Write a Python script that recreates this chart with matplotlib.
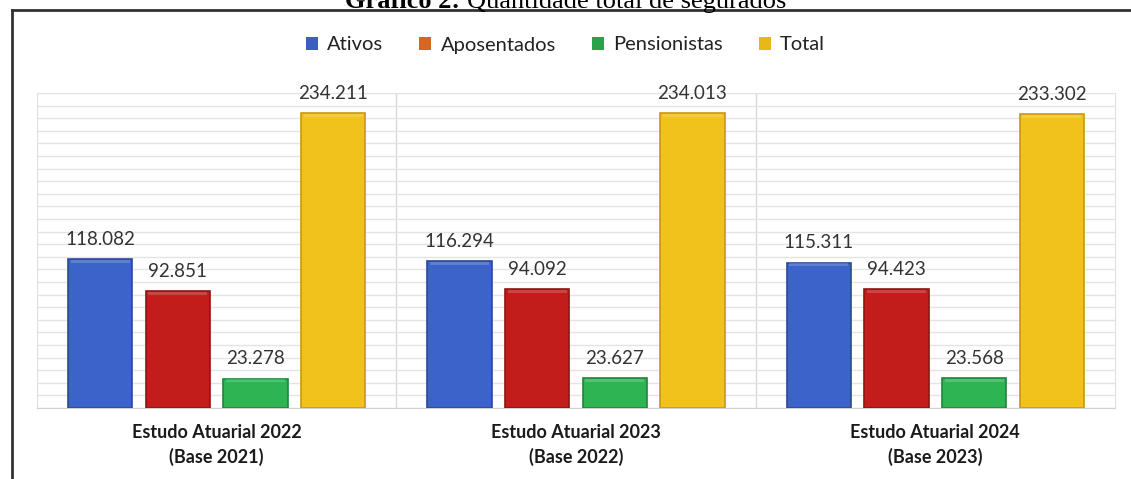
import matplotlib.pyplot as plt
import numpy as np
from matplotlib.patches import Rectangle
from matplotlib.lines import Line2D

# data
categories = ['Estudo Atuarial 2022\n(Base 2021)',
              'Estudo Atuarial 2023\n(Base 2022)',
              'Estudo Atuarial 2024\n(Base 2023)']
series = ['Ativos', 'Aposentados', 'Pensionistas', 'Total']
ativos = [118082, 116294, 115311]
aposentados = [92851, 94092, 94423]
pensionistas = [23278, 23627, 23568]
total = [234211, 234013, 233302]

values = [ativos, aposentados, pensionistas, total]
colors = ['#3b63c9', '#c21d1a', '#2fb453', '#f1c21b']
edges = ['#2a4a9a', '#8e1512', '#21853c', '#c79a10']
legend_colors = ['#3a5fc0', '#d9661e', '#2aa24a', '#e8b818']

plt.rcParams['font.family'] = ['Lato', 'DejaVu Sans']

W, H = 1131, 479
fig = plt.figure(figsize=(W / 100, H / 100), dpi=100)
ax = fig.add_axes([37 / W, 71 / H, 1078 / W, 315 / H])

x = np.arange(len(categories))
step = 0.216
width = 0.179
for i, (name, vals) in enumerate(zip(series, values)):
    pos = x + (i - 1.5) * step
    ax.bar(pos, vals, width, color=colors[i], edgecolor=edges[i],
           linewidth=1.2, zorder=3)
    # lighter top bevel
    ax.bar(pos, [2500] * len(vals), width * 0.92, bottom=np.array(vals) - 3000,
           color='white', alpha=0.18, linewidth=0, zorder=4)
    for xp, v in zip(pos, vals):
        ax.text(xp, v + 9000, f'{v:,}'.replace(',', '.'), ha='center',
                va='bottom', fontsize=13.5, color='#333333')

ax.set_xlim(-0.5, 2.5)
ax.set_ylim(0, 250000)
ax.set_yticks(np.arange(0, 250001, 10000))
ax.yaxis.grid(True, color='#e4e4e4', linewidth=1.0, zorder=0)
ax.tick_params(axis='y', left=False, labelleft=False)
ax.tick_params(axis='x', bottom=False, labelbottom=False)
for xs in [0.5, 1.5]:
    ax.axvline(xs, color='#d9d9d9', linewidth=1.0, zorder=1)
ax.spines['top'].set_visible(False)
for s in ['left', 'right']:
    ax.spines[s].set_color('#e0e0e0')
ax.spines['bottom'].set_color('#d0d0d0')

for xi, cat in zip(x, categories):
    ax.text(xi, -13000, cat, ha='center', va='top', fontsize=13,
            fontweight='bold', color='#1a1a1a', linespacing=1.45)

handles = [Rectangle((0, 0), 1, 1, facecolor=c) for c in legend_colors]
fig.legend(handles, series, loc='center', bbox_to_anchor=(0.5, 1 - 45 / H),
           ncol=4, frameon=False, fontsize=14.5, handlelength=0.6,
           handleheight=0.6, handletextpad=0.45, columnspacing=1.8,
           labelcolor='#222222')

# outer frame and cut-off title
fig.add_artist(Line2D([12 / W, 12 / W], [0, 1 - 10 / H],
                      color='#333333', linewidth=2))
fig.add_artist(Line2D([12 / W, 1], [1 - 10 / H, 1 - 10 / H],
                      color='#333333', linewidth=2))
fig.text(460 / W, 1 - 8 / H, 'Gráfico 2:', ha='right', va='baseline',
         fontsize=19, fontweight='bold', family='Liberation Serif')
fig.text(467 / W, 1 - 8 / H, 'Quantidade total de segurados', ha='left',
         va='baseline', fontsize=19, family='Liberation Serif')

fig.savefig('out.png', dpi=100)
